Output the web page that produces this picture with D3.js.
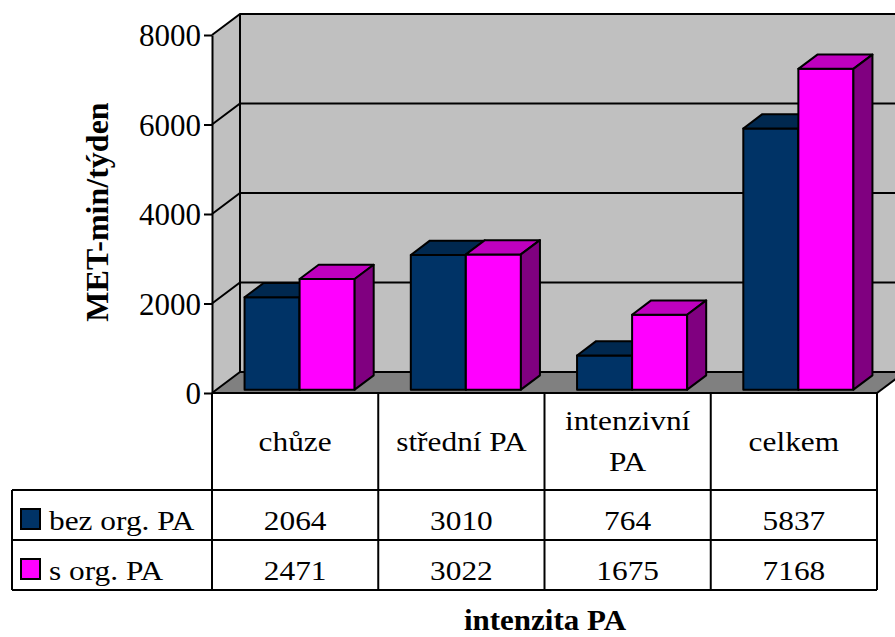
<!DOCTYPE html>
<html>
<head>
<meta charset="utf-8">
<script src="https://cdn.jsdelivr.net/npm/d3@7"></script>
<style>
  html, body { margin: 0; padding: 0; background: #fff; }
  svg { display: block; }
  text { font-family: "Liberation Serif", serif; fill: #000; }
</style>
</head>
<body>
<svg id="chart" width="895" height="637" font-family="Liberation Serif"></svg>
<script>
// Weekly physical activity (MET-min/week) by intensity
const categories = ["chůze", "střední PA", "intenzivní PA", "celkem"];
const seriesNames = ["bez org. PA", "s org. PA"];
const bezOrgPA = [2064, 3010, 764, 5837];
const sOrgPA = [2471, 3022, 1675, 7168];
const yTicks = [0, 2000, 4000, 6000, 8000];
const yTitle = "MET-min/týden";
const xTitle = "intenzita PA";

const seriesValues = [bezOrgPA, sOrgPA];
const colors = [
  { front: "#003366", top: "#00284f", side: "#001a33" },
  { front: "#ff00ff", top: "#bf00bf", side: "#800080" }
];

const svg = d3.select("#chart");

// plot frame (front plane) and 3D depth offset
const plotLeft = 212, plotRight = 877, plotBottom = 393, plotTop = 35;
const DX = 28, DY = -21;
const zStart = 0.16, zDepth = 0.68;

const y = d3.scaleLinear().domain([0, 8000]).range([plotBottom, plotTop]);
const x0 = d3.scaleBand().domain(categories).range([plotLeft, plotRight]).padding(0);
const x1 = d3.scaleBand().domain(seriesNames).range([0, x0.bandwidth()])
  .paddingInner(0).paddingOuter(0.51);

const pts = a => a.map(p => p.join(",")).join(" ");
const g = svg.append("g");

// walls and floor
g.append("polygon")
  .attr("points", pts([[plotLeft + DX, y(8000) + DY], [plotRight + DX, y(8000) + DY], [plotRight + DX, y(0) + DY], [plotLeft + DX, y(0) + DY]]))
  .attr("fill", "#c0c0c0");
g.append("polygon")
  .attr("points", pts([[plotLeft, y(8000)], [plotLeft + DX, y(8000) + DY], [plotLeft + DX, y(0) + DY], [plotLeft, y(0)]]))
  .attr("fill", "#c0c0c0");
g.append("polygon")
  .attr("points", pts([[plotLeft, y(0)], [plotLeft + DX, y(0) + DY], [plotRight + DX, y(0) + DY], [plotRight, y(0)]]))
  .attr("fill", "#808080");

// gridlines across side wall and back wall
g.selectAll("polyline.grid").data(yTicks).join("polyline")
  .attr("class", "grid")
  .attr("points", t => pts([[plotLeft, y(t)], [plotLeft + DX, y(t) + DY], [plotRight + DX, y(t) + DY]]))
  .attr("fill", "none").attr("stroke", "#000").attr("stroke-width", 2);
g.append("line")
  .attr("x1", plotLeft + DX).attr("x2", plotLeft + DX)
  .attr("y1", y(8000) + DY).attr("y2", y(0) + DY)
  .attr("stroke", "#000").attr("stroke-width", 2);
g.append("line")
  .attr("x1", plotRight).attr("y1", y(0)).attr("x2", plotRight + DX).attr("y2", y(0) + DY)
  .attr("stroke", "#000").attr("stroke-width", 2);

// bars, drawn left to right so later faces overlap earlier sides
const bars = [];
categories.forEach((c, i) => {
  seriesNames.forEach((s, j) => {
    bars.push({ cat: c, ser: s, j, value: seriesValues[j][i] });
  });
});
const ox = DX * zStart, oy = DY * zStart;
const bdx = DX * zDepth, bdy = DY * zDepth;
const barG = g.selectAll("g.bar").data(bars).join("g").attr("class", "bar");
barG.each(function (d) {
  const sel = d3.select(this);
  const xl = x0(d.cat) + x1(d.ser) + ox;
  const xr = xl + x1.bandwidth();
  const yt = y(d.value) + oy;
  const yb = y(0) + oy;
  const face = (points, fill) => sel.append("polygon")
    .attr("points", pts(points)).attr("fill", fill)
    .attr("stroke", "#000").attr("stroke-width", 2).attr("stroke-linejoin", "round");
  face([[xl, yt], [xr, yt], [xr, yb], [xl, yb]], colors[d.j].front);
  face([[xl, yt], [xl + bdx, yt + bdy], [xr + bdx, yt + bdy], [xr, yt]], colors[d.j].top);
  face([[xr, yt], [xr + bdx, yt + bdy], [xr + bdx, yb + bdy], [xr, yb]], colors[d.j].side);
});

// value axis
const axis = svg.append("g").attr("transform", `translate(${plotLeft},0)`)
  .call(d3.axisLeft(y).tickValues(yTicks).tickFormat(d3.format("d"))
    .tickSize(8).tickSizeOuter(0).tickPadding(3));
axis.attr("font-family", "Liberation Serif");
axis.select(".domain").attr("stroke", "#000").attr("stroke-width", 2);
axis.selectAll(".tick line").attr("stroke", "#000").attr("stroke-width", 2);
axis.selectAll(".tick text")
  .attr("font-size", 31).attr("fill", "#000")
  .attr("dy", "0.34em");

// axis titles
svg.append("text")
  .attr("transform", "translate(108,212) rotate(-90)")
  .attr("text-anchor", "middle").attr("font-weight", "bold").attr("font-size", 32)
  .text(yTitle);
svg.append("text")
  .attr("transform", "translate(545,630) scale(1.07,1)")
  .attr("text-anchor", "middle").attr("font-weight", "bold").attr("font-size", 29)
  .text(xTitle);

// data table
const tLeft = 12, hdrBottom = 490, row1Bottom = 540, row2Bottom = 590;
const tbl = svg.append("g").attr("font-family", "Liberation Serif");
const line = (xa, ya, xb, yb) => tbl.append("line")
  .attr("x1", xa).attr("y1", ya).attr("x2", xb).attr("y2", yb)
  .attr("stroke", "#000").attr("stroke-width", 2);
line(plotLeft, plotBottom, plotRight, plotBottom);
[plotLeft, ...categories.map(c => x0(c) + x0.bandwidth())].forEach(xv => line(xv, plotBottom, xv, row2Bottom));
line(tLeft, hdrBottom, tLeft, row2Bottom);
[hdrBottom, row1Bottom, row2Bottom].forEach(yv => line(tLeft, yv, plotRight, yv));

const textScale = 1.12, tableFont = 28;
// header cells, wrapped to the column width
categories.forEach(c => {
  const cx = x0(c) + x0.bandwidth() / 2;
  const words = c.split(" ");
  const probe = tbl.append("text").attr("font-size", tableFont).text(c);
  const fits = probe.node().getComputedTextLength() * textScale <= x0.bandwidth() - 10;
  probe.remove();
  const lines = fits ? [c] : words;
  const lh = 41;
  const cy = (plotBottom + hdrBottom) / 2;
  lines.forEach((ln, k) => {
    const by = cy + 9 + (k - (lines.length - 1) / 2) * lh;
    tbl.append("text")
      .attr("transform", `translate(${cx},${by}) scale(${textScale},1)`)
      .attr("text-anchor", "middle").attr("font-size", tableFont).text(ln);
  });
});

// series rows with legend keys
const rowTops = [hdrBottom, row1Bottom];
seriesNames.forEach((s, j) => {
  const rt = rowTops[j];
  tbl.append("rect")
    .attr("x", 21).attr("y", rt + 19).attr("width", 19).attr("height", 20)
    .attr("fill", colors[j].front).attr("stroke", "#000").attr("stroke-width", 2);
  tbl.append("text")
    .attr("transform", `translate(49,${rt + 40}) scale(${textScale},1)`)
    .attr("font-size", tableFont).text(s);
  categories.forEach((c, i) => {
    tbl.append("text")
      .attr("transform", `translate(${x0(c) + x0.bandwidth() / 2},${rt + 40}) scale(${textScale},1)`)
      .attr("text-anchor", "middle").attr("font-size", tableFont)
      .text(seriesValues[j][i]);
  });
});
</script>
</body>
</html>
